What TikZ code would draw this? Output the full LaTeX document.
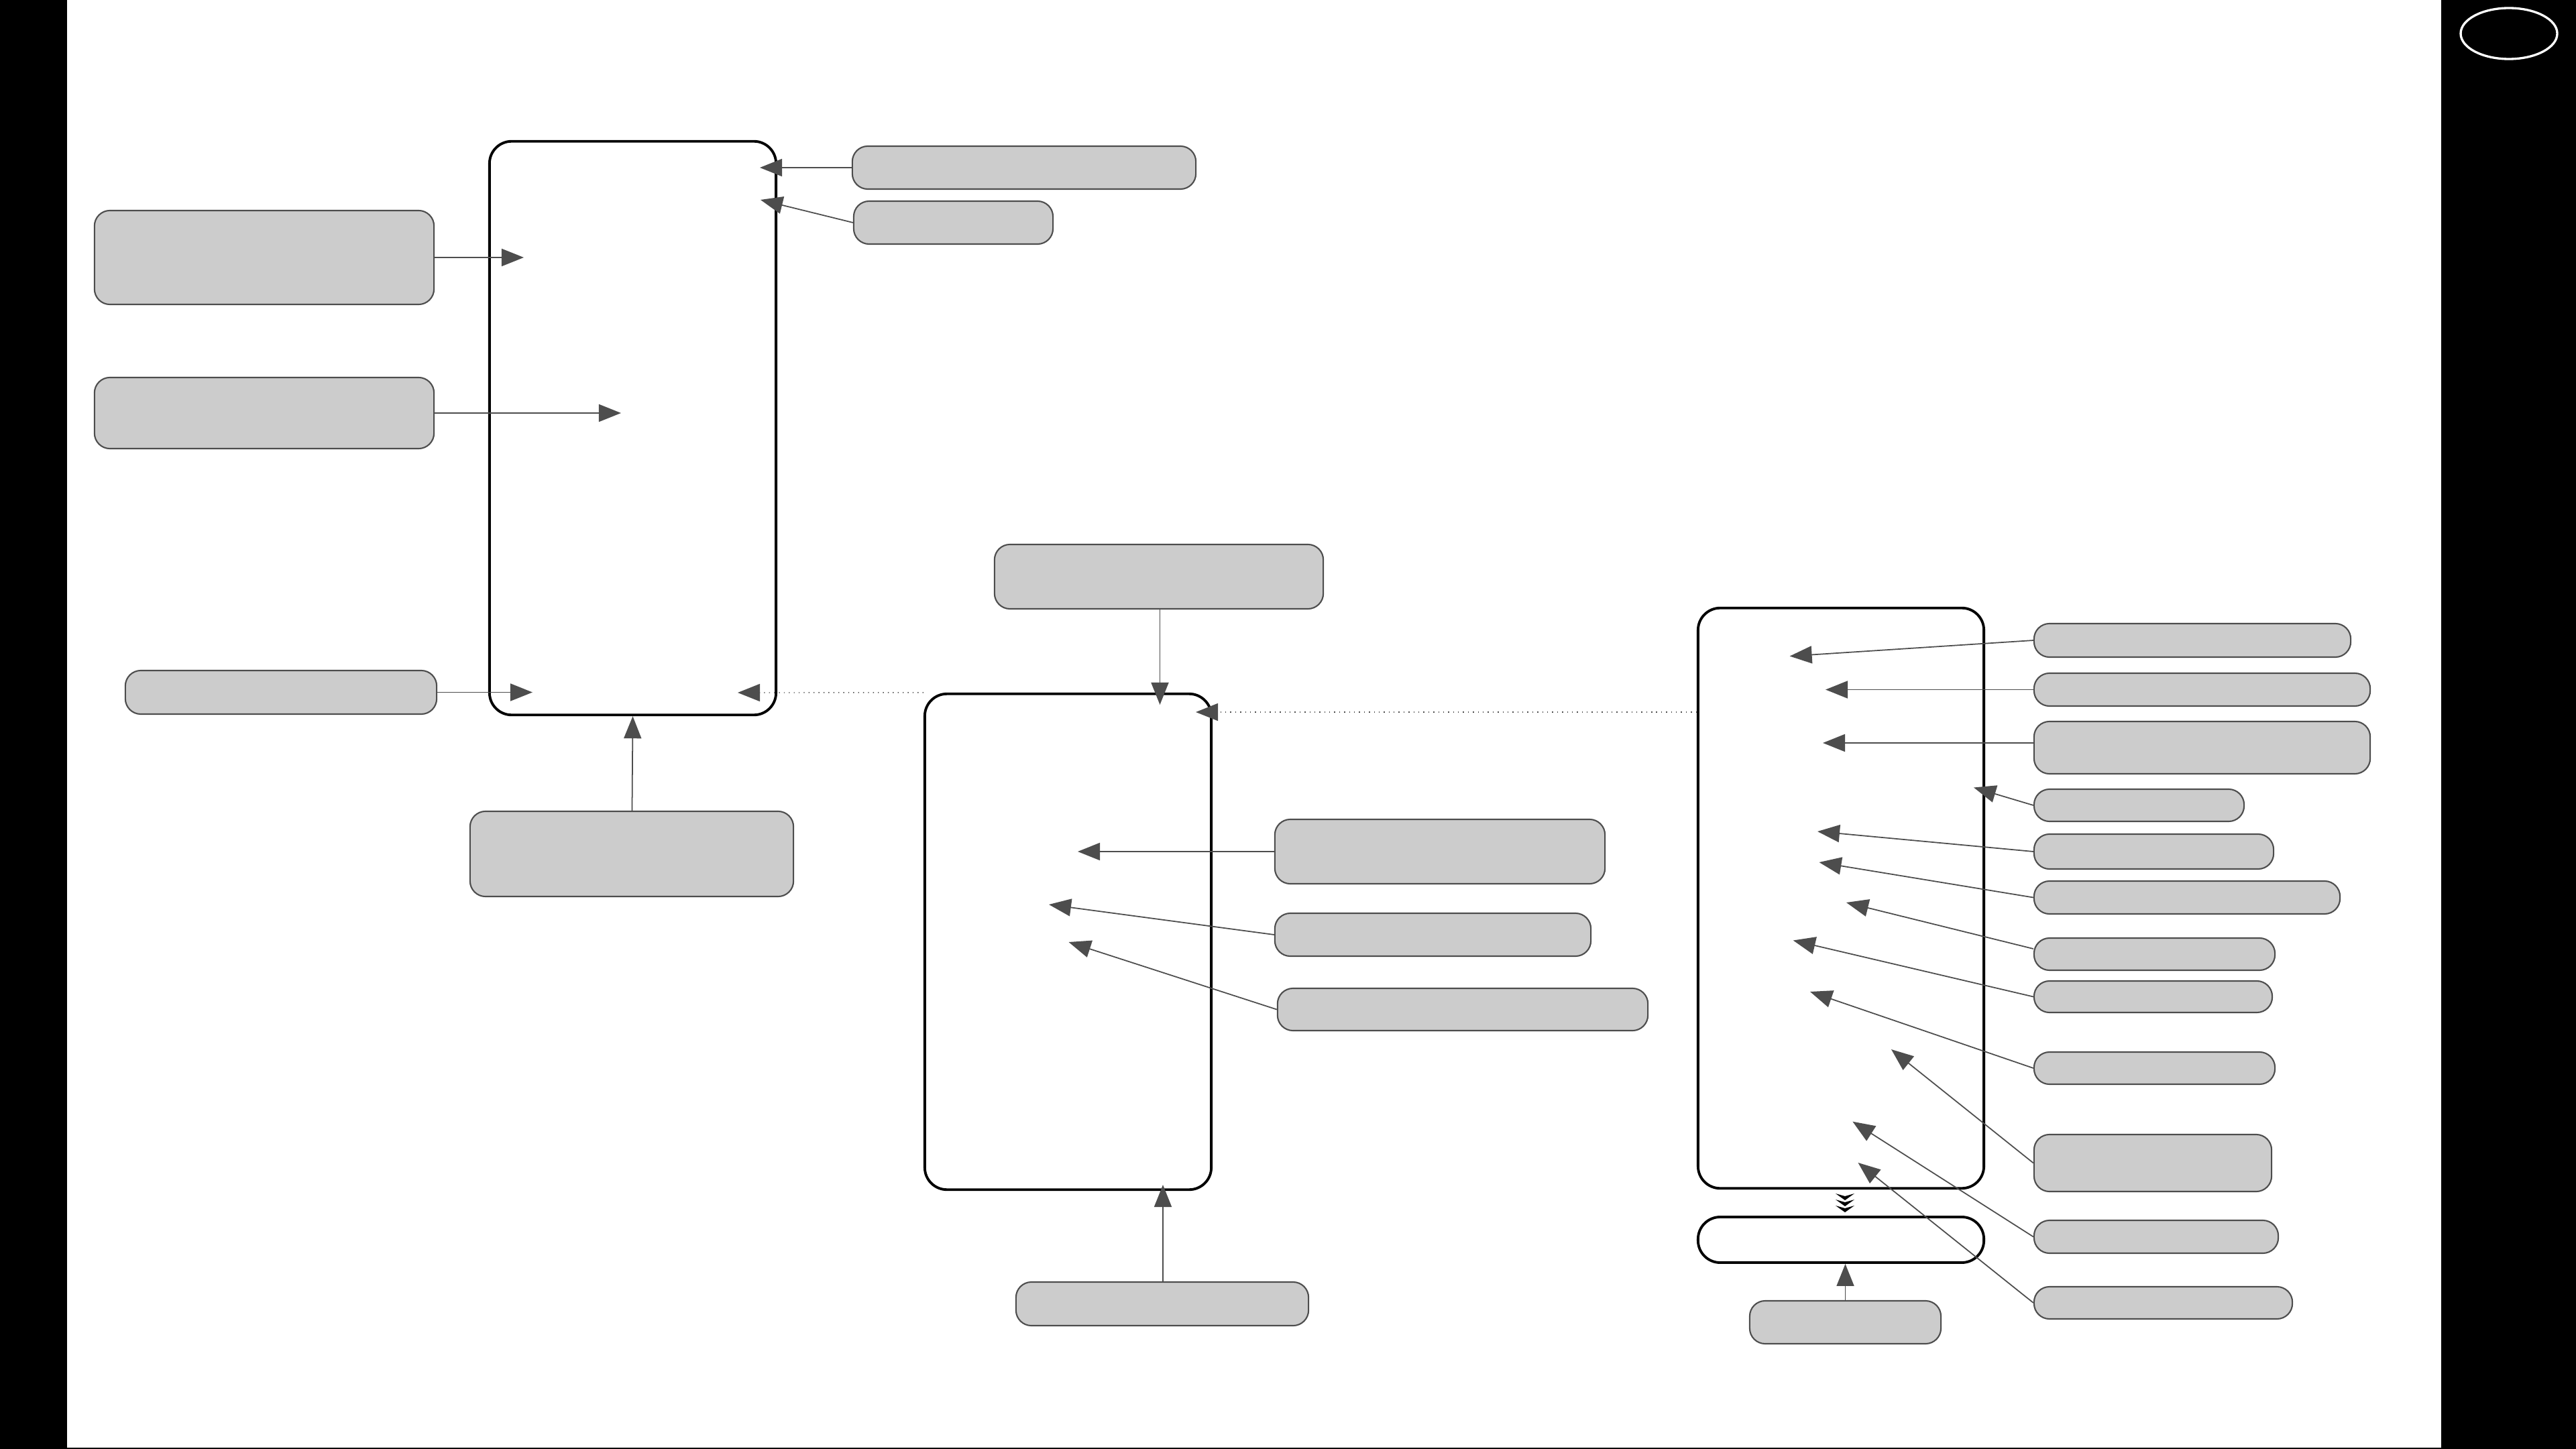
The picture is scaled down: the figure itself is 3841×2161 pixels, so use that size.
\documentclass[tikz,border=0pt]{standalone}
\usepackage{tikz}
\usetikzlibrary{arrows.meta, positioning}
\definecolor{boxgray}{RGB}{204,204,204}
\definecolor{edgegray}{RGB}{77,77,77}

\begin{document}
\begin{tikzpicture}[
    x=0.01cm, y=-0.01cm,
    panel/.style={rectangle, rounded corners=0.33cm, draw=black, line width=1.1pt, fill=white, inner sep=0pt},
    entry/.style={rectangle, rounded corners=0.23cm, draw=edgegray, line width=0.6pt, fill=boxgray, inner sep=0pt},
    arrow/.style={-{Triangle[length=0.33cm, width=0.26cm]}, line width=0.5pt, edgegray},
    link/.style={arrow, dash pattern=on 0.4pt off 1.7pt, line width=0.4pt}
]
\useasboundingbox (0,0) rectangle (3841,2161);

% Side bands
\fill[black] (0,0) rectangle (100,2161);
\fill[black] (3640,0) rectangle (3841,2161);
\fill[black] (0,2159) rectangle (3841,2161);
\draw[white, line width=0.95pt] (3741,50) ellipse [x radius=72, y radius=38];

% Panels
\node[panel, minimum width=4.27cm, minimum height=8.55cm] (A) at (943.5,638.5) {};
\node[panel, minimum width=4.27cm, minimum height=7.39cm] (B) at (1592.5,1404.5) {};
\node[panel, minimum width=4.26cm, minimum height=8.65cm] (C) at (2745,1339.5) {};
\node[panel, minimum width=4.26cm, minimum height=0.68cm] (Cbase) at (2745,1849) {};

% Entries around the first panel
\node[entry, minimum width=5.06cm, minimum height=1.40cm] (g1) at (394,384) {};
\node[entry, minimum width=5.06cm, minimum height=1.06cm] (g2) at (394,616) {};
\node[entry, minimum width=4.64cm, minimum height=0.65cm] (g3) at (419,1032.5) {};
\node[entry, minimum width=5.12cm, minimum height=0.64cm] (g4) at (1527,250) {};
\node[entry, minimum width=2.97cm, minimum height=0.64cm] (g5) at (1421.5,332) {};
\node[entry, minimum width=4.82cm, minimum height=1.27cm] (g6) at (942,1273.5) {};

% Entries around the second panel
\node[entry, minimum width=4.90cm, minimum height=0.96cm] (g7) at (1728,860) {};
\node[entry, minimum width=4.92cm, minimum height=0.96cm] (g8) at (2147,1270) {};
\node[entry, minimum width=4.71cm, minimum height=0.64cm] (g9) at (2136.5,1394) {};
\node[entry, minimum width=5.52cm, minimum height=0.63cm] (g10) at (2181,1505.5) {};
\node[entry, minimum width=4.36cm, minimum height=0.65cm] (g11) at (1733,1944.5) {};

% Entry below the third panel
\node[entry, minimum width=2.85cm, minimum height=0.64cm] (g12) at (2751.5,1972) {};

% Targets inside the panels
\coordinate (t1) at (781,384);
\coordinate (t2) at (926,616);
\coordinate (t3) at (794,1032.5);
\coordinate (t4) at (1133,250);
\coordinate (t5) at (1134,298);
\coordinate (ta) at (1100,1033);
\coordinate (t7) at (1729.5,1051);
\coordinate (tb) at (1783,1062);
\coordinate (t8) at (1607,1270);
\coordinate (t9) at (1564,1349);
\coordinate (t10) at (1593.5,1405);
\coordinate (t11) at (1734,1767);

% Connections of the first panel
\draw[arrow] (g1) -- (t1);
\draw[arrow] (g2) -- (t2);
\draw[arrow] (g3) -- (t3);
\draw[arrow] (g4) -- (t4);
\draw[arrow] (g5.west) -- (t5);
\draw[arrow] (g6) -- (A.south);
\draw[link] (B.north west) -- (ta);

% Connections of the second panel
\draw[arrow] (g7.south -| t7) -- (t7);
\draw[arrow] (g8) -- (t8);
\draw[arrow] (g9.west) -- (t9);
\draw[arrow] (g10.west) -- (t10);
\draw[arrow] (g11.north -| t11) -- (t11);
\draw[link] (C.west |- tb) -- (tb);

% Entries right of the third panel (last field: start offset, up)
\foreach \n/\cx/\cy/\w/\h/\tx/\ty/\up in {
    1/3269/955/4.72/0.50/2668.6/978.6/0,
    2/3283.5/1028.5/5.01/0.49/2722/1028.5/0,
    3/3283.5/1115/5.01/0.78/2718/1108/0.07,
    4/3189.5/1201/3.13/0.48/2943/1174.5/0,
    5/3211.5/1270/3.57/0.52/2710/1240/0,
    6/3261/1338.5/4.56/0.49/2712.5/1286/0,
    7/3212.5/1423/3.59/0.48/2753/1346/0.08,
    8/3210.5/1486.5/3.55/0.47/2673.7/1402.5/0,
    9/3212.5/1593/3.59/0.48/2699/1479/0,
    10/3210/1734.5/3.54/0.85/2820/1565/0,
    11/3215/1844.5/3.64/0.49/2762.4/1672.7/0,
    12/3225.5/1943/3.85/0.48/2770.5/1734/0} {
    \node[entry, minimum width=\w cm, minimum height=\h cm] (r\n) at (\cx,\cy) {};
    \coordinate (tr\n) at (\tx,\ty);
    \draw[arrow] ([yshift=\up cm]r\n.west) -- (tr\n);
}

% Base of the third panel
\draw[arrow] (g12.north) -- (g12.north |- Cbase.south);
\foreach \dy in {0,9,18} {
    \fill[black] (2737,1780+\dy) -- (2751,1784+\dy) -- (2765,1780+\dy) -- (2751,1790+\dy) -- cycle;
}
\end{tikzpicture}
\end{document}
